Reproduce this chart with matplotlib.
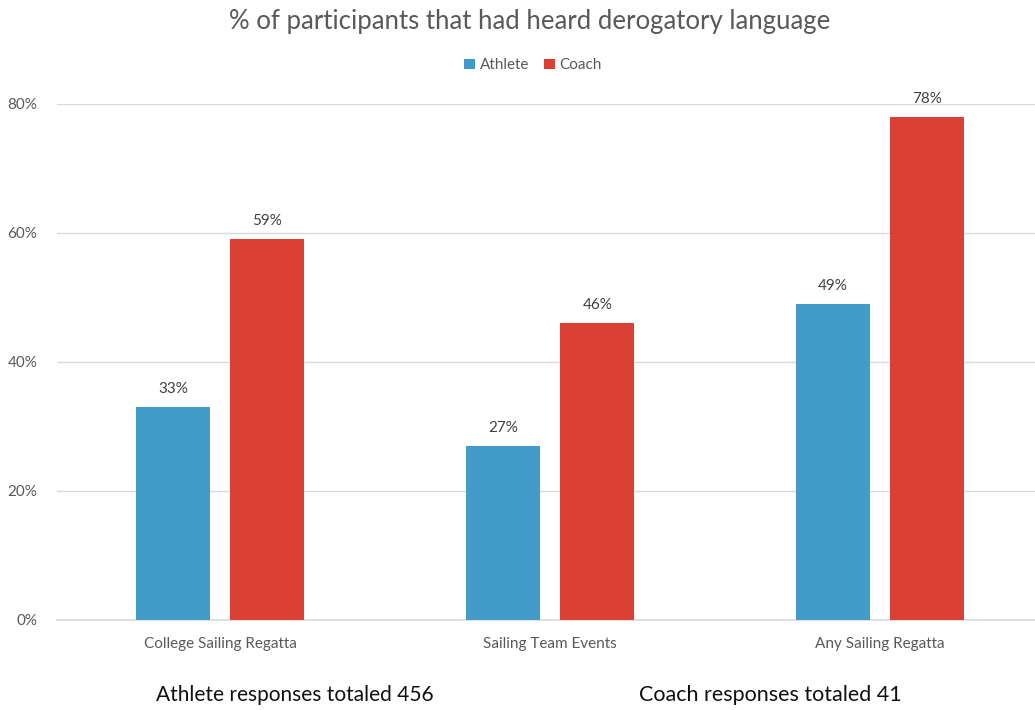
import matplotlib.pyplot as plt
import numpy as np

# survey results, % who had heard derogatory language
categories = ['College Sailing Regatta', 'Sailing Team Events', 'Any Sailing Regatta']
athlete = [33, 27, 49]
coach = [59, 46, 78]
yticks = [0, 20, 40, 60, 80]

blue = '#429BC8'
red = '#DB4034'
grey = '#595959'

plt.rcParams['font.family'] = ['Lato', 'DejaVu Sans']

fig = plt.figure(figsize=[10.35, 7.1], dpi=100)
ax = fig.add_axes([0.055, 0.1268, 0.945, 0.7268])

x = np.arange(len(categories))
w = 0.225
off = 0.143
b1 = ax.bar(x - off, athlete, w, color=blue, label='Athlete', zorder=3)
b2 = ax.bar(x + off, coach, w, color=red, label='Coach', zorder=3)

for bars in (b1, b2):
    for b in bars:
        ax.annotate('%d%%' % round(b.get_height()),
                    (b.get_x() + b.get_width() / 2, b.get_height()),
                    xytext=(0, 8), textcoords='offset points',
                    ha='center', va='bottom', fontsize=11, color='#404040')

ax.set_ylim(0, 80)
ax.set_xlim(-0.495, 2.47)
ax.set_yticks(yticks)
ax.set_yticklabels(['%d%%' % t for t in yticks])
ax.set_xticks(x)
ax.set_xticklabels(categories)
ax.tick_params(axis='both', length=0, labelsize=11, colors=grey)
ax.tick_params(axis='x', pad=12)
ax.tick_params(axis='y', pad=14)
ax.grid(axis='y', color='#D9D9D9', linewidth=1, zorder=0)
for s in ['top', 'right', 'left']:
    ax.spines[s].set_visible(False)
ax.spines['bottom'].set_color('#D9D9D9')
ax.spines['bottom'].set_linewidth(1.2)

fig.text(0.512, 0.97, '% of participants that had heard derogatory language',
         ha='center', va='center', fontsize=18.5, color=grey)
fig.legend(loc='center', bbox_to_anchor=(0.515, 0.908), ncol=2, frameon=False,
           fontsize=11, handlelength=0.7, handleheight=0.7, handletextpad=0.3,
           columnspacing=1.0, labelcolor=grey)

fig.text(0.285, 0.021, 'Athlete responses totaled 456', ha='center', va='center',
         fontsize=15, color='#111111')
fig.text(0.744, 0.021, 'Coach responses totaled 41', ha='center', va='center',
         fontsize=15.5, color='#111111')

plt.savefig('out.png', dpi=100)
